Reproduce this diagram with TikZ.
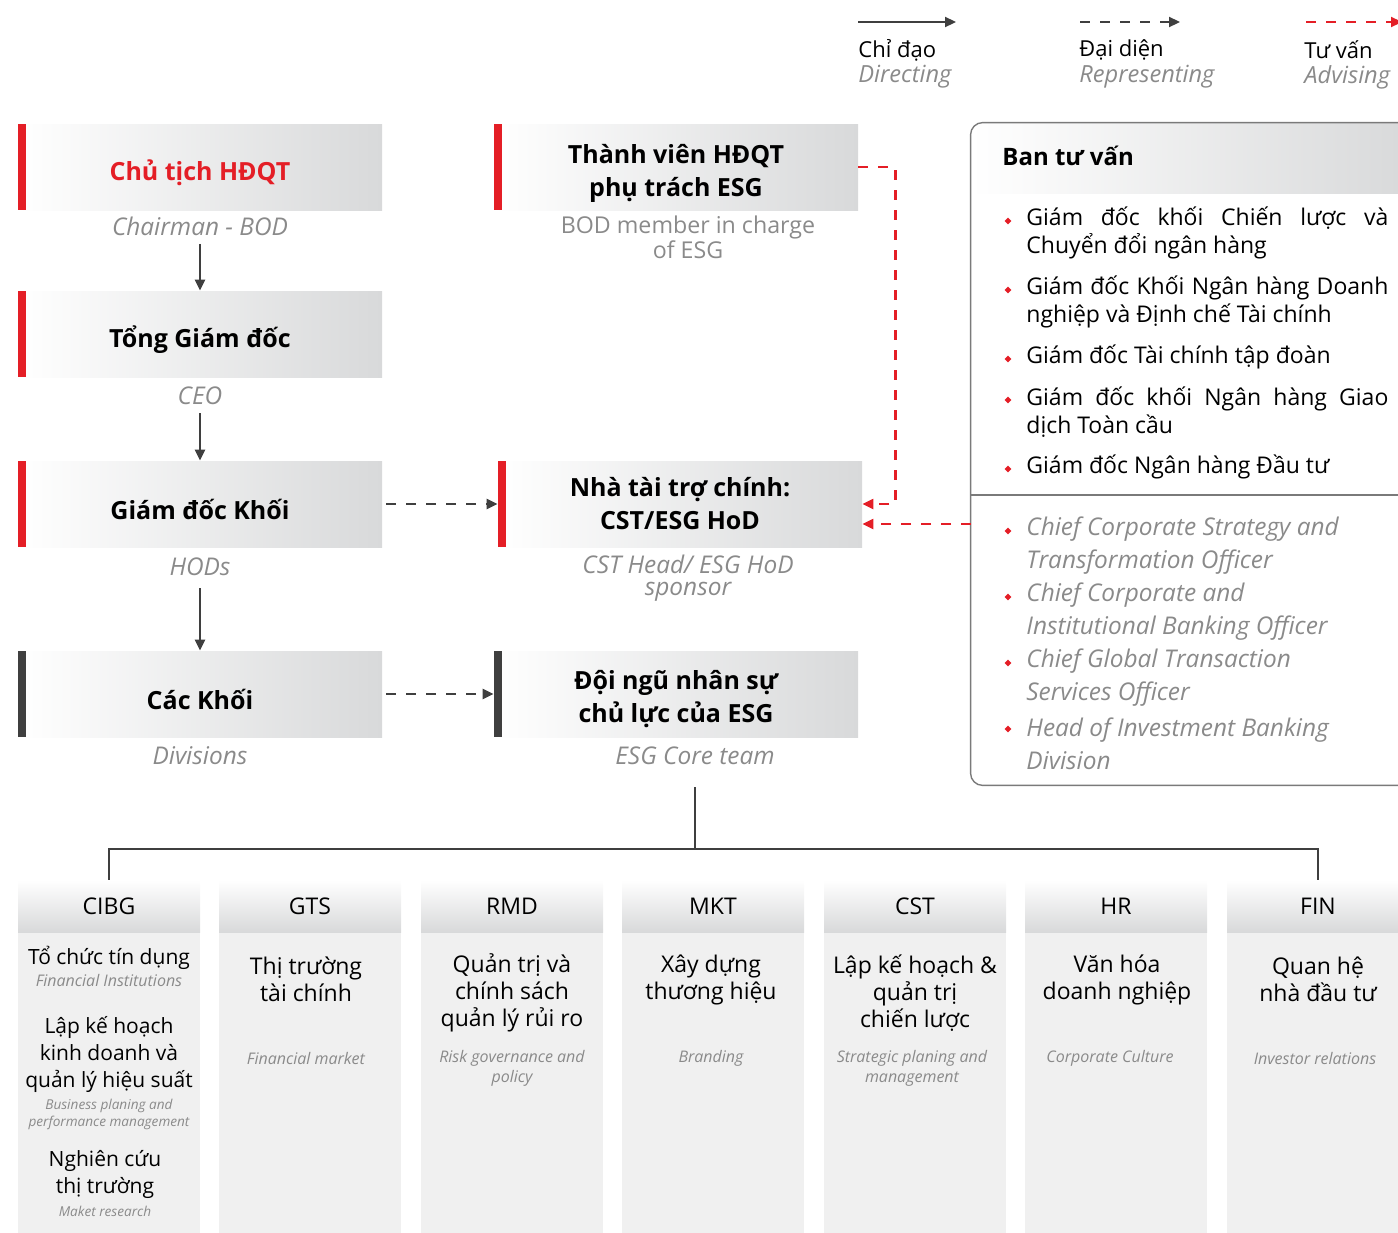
\documentclass[tikz,border=0pt]{standalone}
\usepackage{fontspec}
\setmainfont{Open Sans}
\usetikzlibrary{arrows.meta,shapes.geometric}
\definecolor{vred}{HTML}{E41E26}
\definecolor{vdark}{HTML}{3F3F3F}
\definecolor{vgray}{HTML}{8A8A8A}
\definecolor{vshade}{HTML}{D8D9DA}
\definecolor{vbody}{HTML}{F0F0F0}
\definecolor{vedge}{HTML}{7A7A7A}
\newcommand{\rowlift}[1]{\rule{0pt}{#1}}
\tikzset{
  rolebox/.style={minimum width=182pt, minimum height=43pt, inner sep=0pt,
    left color=white, right color=vshade, align=center,
    font=\fontsize{12.5}{16.5}\selectfont\bfseries,
    path picture={\fill[#1] (path picture bounding box.north west) rectangle
      ([xshift=4pt]path picture bounding box.south west);}},
  rolebox/.default=vred,
  roletag/.style={inner sep=0pt, align=center, text=vgray,
    font=\fontsize{12.2}{11}\selectfont\itshape},
  legendtext/.style={anchor=west, inner sep=0pt, font=\fontsize{11}{12}\selectfont},
  legendtag/.style={legendtext, text=vgray, font=\fontsize{11.8}{12}\selectfont\itshape},
  direct/.style={draw=vdark, line width=1.1pt, -{Triangle[length=5.5pt,width=5pt]}},
  represent/.style={direct, dash pattern=on 5pt off 5pt},
  advise/.style={represent, draw=vred},
  tree/.style={draw=vdark, line width=1pt},
  dot/.style={diamond, fill=vred, inner sep=0pt, minimum size=3.5pt},
  itemtext/.style={anchor=west, inner sep=0pt, text width=181pt, align=justify,
    font=\fontsize{11.5}{14}\selectfont},
  itemtag/.style={anchor=west, inner sep=0pt, align=left, text=vgray,
    font=\fontsize{12.2}{16.5}\selectfont\itshape},
  unithead/.style={minimum width=91pt, minimum height=26pt, inner sep=0pt,
    top color=white, bottom color=vshade, font=\fontsize{11.5}{13}\selectfont},
  unitbody/.style={minimum width=91pt, minimum height=150pt, inner sep=0pt, fill=vbody},
  unittext/.style={inner sep=0pt, align=center, font=\fontsize{11.5}{13.5}\selectfont},
  unitnote/.style={inner sep=0pt, align=center, text=vgray,
    font=\fontsize{8}{10}\selectfont\itshape}
}
\begin{document}
\begin{tikzpicture}[x=0.5pt,y=-0.5pt]
\clip (0,0) rectangle (1398,1232);
% legend
\coordinate (dirA) at (858,22);
\coordinate (dirB) at (956,22);
\coordinate (repA) at (1080,22);
\coordinate (repB) at (1180,22);
\coordinate (advA) at (1306,22);
\coordinate (advB) at (1402,22);
\draw [direct] (dirA) -- (dirB);
\draw [represent] (repA) -- (repB);
\draw [advise] (advA) -- (advB);
\node [legendtext] (dirtext) at (858,50) {Chỉ đạo};
\node [legendtag] (dirtag) at (858,77) {Directing};
\node [legendtext] (reptext) at (1079,50) {Đại diện};
\node [legendtag] (reptag) at (1079,77) {Representing};
\node [legendtext] (advtext) at (1304,50) {Tư vấn};
\node [legendtag] (advtag) at (1304,77) {Advising};
% left column
\node [rolebox, text=vred] (chair) at (200,167) {\rowlift{16pt}Chủ tịch HĐQT};
\node [roletag] (chairtag) at (200,226) {Chairman - BOD};
\node [rolebox] (ceo) at (200,334) {\rowlift{16pt}Tổng Giám đốc};
\node [roletag] (ceotag) at (200,396) {CEO};
\node [rolebox] (hod) at (200,504) {\rowlift{16pt}Giám đốc Khối};
\node [roletag] (hodtag) at (200,567) {HODs};
\node [rolebox=vdark] (div) at (200,694) {\rowlift{16pt}Các Khối};
\node [roletag] (divtag) at (200,756) {Divisions};
\draw [direct, shorten <=4pt] (chairtag) -- (ceo);
\draw [direct, shorten <=4pt] (ceotag) -- (hod);
\draw [direct, shorten <=6pt] (hodtag) -- (div);
% middle column
\node [rolebox] (member) at (676,167) {\rowlift{16pt}Thành viên HĐQT\\phụ trách ESG};
\node [roletag, font=\fontsize{11.6}{10.8}\selectfont] (membertag) at (688,237) {BOD member in charge\\of ESG};
\node [rolebox] (sponsor) at (680,504) {Nhà tài trợ chính:\\CST/ESG HoD};
\node [roletag] (sponsortag) at (688,578) {CST Head/ ESG HoD\\sponsor};
\node [rolebox=vdark] (core) at (676,694) {\rowlift{14.5pt}Đội ngũ nhân sự\\chủ lực của ESG};
\node [roletag] (coretag) at (695,756) {ESG Core team};
\draw [represent, shorten <=2pt] (hod) -- (sponsor);
\draw [represent, shorten <=2pt] (div) -- (core);
\draw [advise] (member.east) -- ++(37,0) |- (sponsor.east);
% advisory board
\node [minimum width=219.5pt, minimum height=331pt, inner sep=0pt] (board) at (1190.5,454) {};
\begin{scope}
\clip [rounded corners=6pt] (board.north west) rectangle (board.south east);
\shade [left color=white, right color=vshade] (board.north west) rectangle (1410,193);
\end{scope}
\draw [vedge, line width=0.7pt, rounded corners=6pt] (board.north west) rectangle (board.south east);
\draw [vedge, line width=0.7pt] (board.west |- 0,495) -- (board.east |- 0,495);
\node [anchor=west, inner sep=0pt, font=\fontsize{12}{14}\selectfont\bfseries] (boardhead) at (1002,156) {Ban tư vấn};
\node [dot] (b1) at (1008,221) {};
\node [itemtext] (i1) at (1026,233) {Giám đốc khối Chiến lược và\linebreak Chuyển đổi ngân hàng};
\node [dot] (b2) at (1008,290) {};
\node [itemtext] (i2) at (1026,302) {Giám đốc Khối Ngân hàng Doanh\linebreak nghiệp và Định chế Tài chính};
\node [dot] (b3) at (1008,359) {};
\node [itemtext] (i3) at (1026,357) {Giám đốc Tài chính tập đoàn};
\node [dot] (b4) at (1008,400) {};
\node [itemtext] (i4) at (1026,412) {Giám đốc khối Ngân hàng Giao\linebreak dịch Toàn cầu};
\node [dot] (b5) at (1008,469) {};
\node [itemtext] (i5) at (1026,467) {Giám đốc Ngân hàng Đầu tư};
\node [dot] (b6) at (1008,531) {};
\node [itemtag] (e1) at (1026,545.5) {Chief Corporate Strategy and\\Transformation Officer};
\node [dot] (b7) at (1008,597) {};
\node [itemtag] (e2) at (1026,611.5) {Chief Corporate and\\Institutional Banking Officer};
\node [dot] (b8) at (1008,663) {};
\node [itemtag] (e3) at (1026,677.5) {Chief Global Transaction\\Services Officer};
\node [dot] (b9) at (1008,729) {};
\node [itemtag] (e4) at (1026,743.5) {Head of Investment Banking\\Division};
\coordinate (advin) at (971,524);
\draw [advise] (advin) -- (sponsor.east |- advin);
% divisions
\foreach \n/\x/\t in {cibg/109/CIBG, gts/310/GTS, rmd/512/RMD, mkt/713/MKT, cst/915/CST, hr/1116/HR, fin/1318/FIN}{
  \node [unithead] (\n) at (\x,906) {\t};
  \node [unitbody, anchor=north] (\n-b) at (\n.south) {};
}
\coordinate (fork) at (695,849);
\draw [tree, shorten <=11pt] (coretag) -- (fork);
\draw [tree] (cibg.north) |- (fork) -| (fin.north);
% division texts
\node [unittext, font=\fontsize{10.5}{13.5}\selectfont] (cibg-t1) at (109,958) {Tổ chức tín dụng};
\node [unitnote] (cibg-n1) at (109,980) {Financial Institutions};
\node [unittext, font=\fontsize{10.5}{13.5}\selectfont] (cibg-t2) at (109,1054) {Lập kế hoạch\\kinh doanh và\\quản lý hiệu suất};
\node [unitnote, font=\fontsize{6.8}{8.5}\selectfont\itshape] (cibg-n2) at (109,1114.5) {Business planing and\\performance management};
\node [unittext, font=\fontsize{10.5}{13.5}\selectfont] (cibg-t3) at (105,1174.5) {Nghiên cứu\\thị trường};
\node [unitnote, font=\fontsize{6.8}{8.5}\selectfont\itshape] (cibg-n3) at (105,1211) {Maket research};
\node [unittext] (gts-t) at (306,979.5) {Thị trường\\tài chính};
\node [unitnote] (gts-n) at (306,1058) {Financial market};
\node [unittext] (rmd-t) at (512,993) {Quản trị và\\chính sách\\quản lý rủi ro};
\node [unitnote] (rmd-n) at (512,1068) {Risk governance and\\policy};
\node [unittext] (mkt-t) at (711,979.5) {Xây dựng\\thương hiệu};
\node [unitnote] (mkt-n) at (711,1058) {Branding};
\node [unittext] (cst-t) at (915,993) {Lập kế hoạch \&\\quản trị\\chiến lược};
\node [unitnote] (cst-n) at (912,1068) {Strategic planing and\\management};
\node [unittext] (hr-t) at (1117,979.5) {Văn hóa\\doanh nghiệp};
\node [unitnote] (hr-n) at (1110,1058) {Corporate Culture};
\node [unittext] (fin-t) at (1318,979.5) {Quan hệ\\nhà đầu tư};
\node [unitnote] (fin-n) at (1315,1058) {Investor relations};
\end{tikzpicture}
\end{document}
